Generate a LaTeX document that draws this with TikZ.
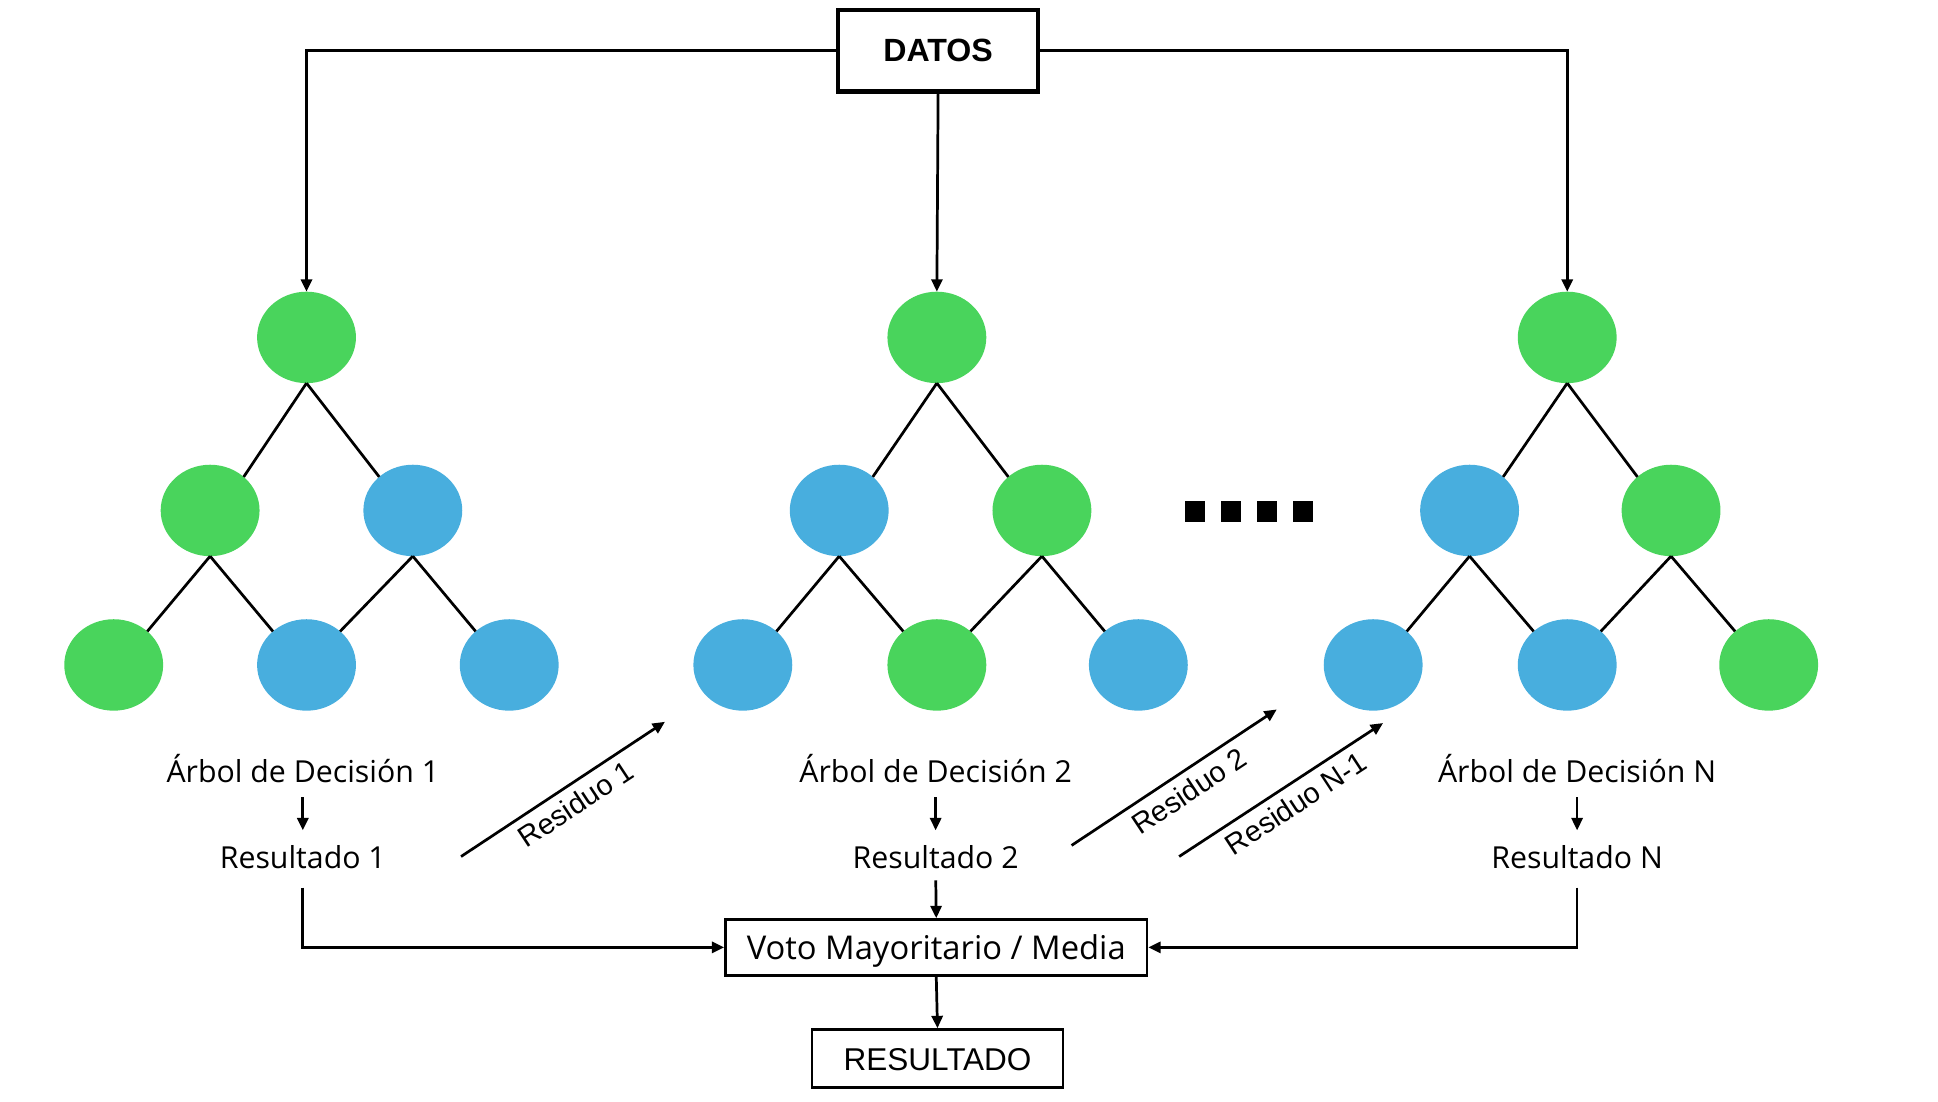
\documentclass[tikz,border=0pt]{standalone}
\usepackage{fontspec}
\setmainfont{Open Sans}
\newfontfamily\arialf{Liberation Sans}
\usetikzlibrary{shapes.geometric,arrows.meta}
\definecolor{tgreen}{RGB}{73,212,92}
\definecolor{tblue}{RGB}{72,174,222}
\begin{document}
\begin{tikzpicture}[x=1pt,y=-1pt,
  leaf/.style={ellipse, minimum width=80pt, minimum height=74pt, inner sep=0pt, outer sep=0pt},
  gn/.style={leaf, fill=tgreen},
  bn/.style={leaf, fill=tblue},
  edge/.style={line width=2.2pt},
  arr/.style={line width=2.2pt, -{Triangle[length=10pt,width=9pt]}},
  lbl/.style={font=\fontsize{24.5}{28}\selectfont, inner sep=0pt, text height=18pt, text depth=1pt, anchor=base},
  resid/.style={font=\arialf\fontsize{23.5}{26}\selectfont, sloped, below=6pt, inner sep=0pt},
  dot/.style={fill=black}
]
\useasboundingbox (0,0) rectangle (1568,891);

% DATOS
\node[draw, line width=3.6pt, minimum width=162pt, minimum height=66pt, inner sep=0pt,
      font=\arialf\bfseries\fontsize{26}{30}\selectfont] (datos) at (759,41) {DATOS};

% Tree 1
\node[gn] (t1r) at (248,273) {};
\node[gn] (t1ml) at (170,413) {};
\node[bn] (t1mr) at (334,413) {};
\node[gn] (t1b1) at (92,538) {};
\node[bn] (t1b2) at (248,538) {};
\node[bn] (t1b3) at (412,538) {};
% Tree 2
\node[gn] (t2r) at (758,273) {};
\node[bn] (t2ml) at (679,413) {};
\node[gn] (t2mr) at (843,413) {};
\node[bn] (t2b1) at (601,538) {};
\node[gn] (t2b2) at (758,538) {};
\node[bn] (t2b3) at (921,538) {};
% Tree N
\node[gn] (t3r) at (1268,273) {};
\node[bn] (t3ml) at (1189,413) {};
\node[gn] (t3mr) at (1352,413) {};
\node[bn] (t3b1) at (1111,538) {};
\node[bn] (t3b2) at (1268,538) {};
\node[gn] (t3b3) at (1431,538) {};

\foreach \t in {t1,t2,t3}{
  \draw[edge] (\t r.south) -- (\t ml.45);
  \draw[edge] (\t r.south) -- (\t mr.135);
  \draw[edge] (\t ml.south) -- (\t b1.45);
  \draw[edge] (\t ml.south) -- (\t b2.135);
  \draw[edge] (\t mr.south) -- (\t b2.45);
  \draw[edge] (\t mr.south) -- (\t b3.135);
}

% DATOS connectors
\draw[arr] (datos.west) -| (t1r.north);
\draw[arr] (datos.south) -- (t2r.north);
\draw[arr] (datos.east) -| (t3r.north);

% dots
\fill[dot] (959,405) rectangle ++(16,17);
\fill[dot] (988,405) rectangle ++(16,17);
\fill[dot] (1017,405) rectangle ++(16,17);
\fill[dot] (1046,405) rectangle ++(16,17);

% labels
\node[lbl] (a1) at (245,633) {Árbol de Decisión 1};
\node[lbl] (r1) at (245,703) {Resultado 1};
\node[lbl] (a2) at (757,633) {Árbol de Decisión 2};
\node[lbl] (r2) at (757,703) {Resultado 2};
\node[lbl] (a3) at (1276,633) {Árbol de Decisión N};
\node[lbl] (r3) at (1276,703) {Resultado N};

\draw[arr, shorten <=11pt, shorten >=13pt] (a1.south) -- (r1.north);
\draw[arr, shorten <=11pt, shorten >=13pt] (a2.south) -- (r2.north);
\draw[arr, shorten <=11pt, shorten >=13pt] (a3.south) -- (r3.north);

% residuals
\coordinate (s1) at (373,693); \coordinate (e1) at (538,584);
\coordinate (s2) at (867,684); \coordinate (e2) at (1033,574);
\coordinate (s3) at (954,693); \coordinate (e3) at (1119,585);
\draw[arr] (s1) -- node[resid, pos=0.51] (l1) {Residuo 1} (e1);
\draw[arr] (s2) -- node[resid, pos=0.52] (l2) {Residuo 2} (e2);
\draw[arr] (s3) -- node[resid, pos=0.52] (l3) {Residuo N-1} (e3);

% aggregation
\node[draw, line width=2.2pt, minimum width=341pt, minimum height=45pt, inner sep=0pt,
      text height=19pt, text depth=0pt,
      font=\fontsize{26.5}{30}\selectfont] (voto) at (757.5,766.5) {Voto Mayoritario / Media};
\node[draw, line width=2.2pt, minimum width=203pt, minimum height=47pt, inner sep=0pt,
      text height=18.5pt, text depth=0pt,
      font=\arialf\fontsize{25.5}{30}\selectfont] (res) at (758.5,856.5) {RESULTADO};

\draw[arr, shorten <=14pt] (r1.south) |- (voto.west);
\draw[arr, shorten <=14pt] (r3.south) |- (voto.east);
\draw[arr, shorten <=8pt] (r2.south) -- (voto.north);
\draw[arr] (voto.south) -- (res.north);
\end{tikzpicture}
\end{document}
